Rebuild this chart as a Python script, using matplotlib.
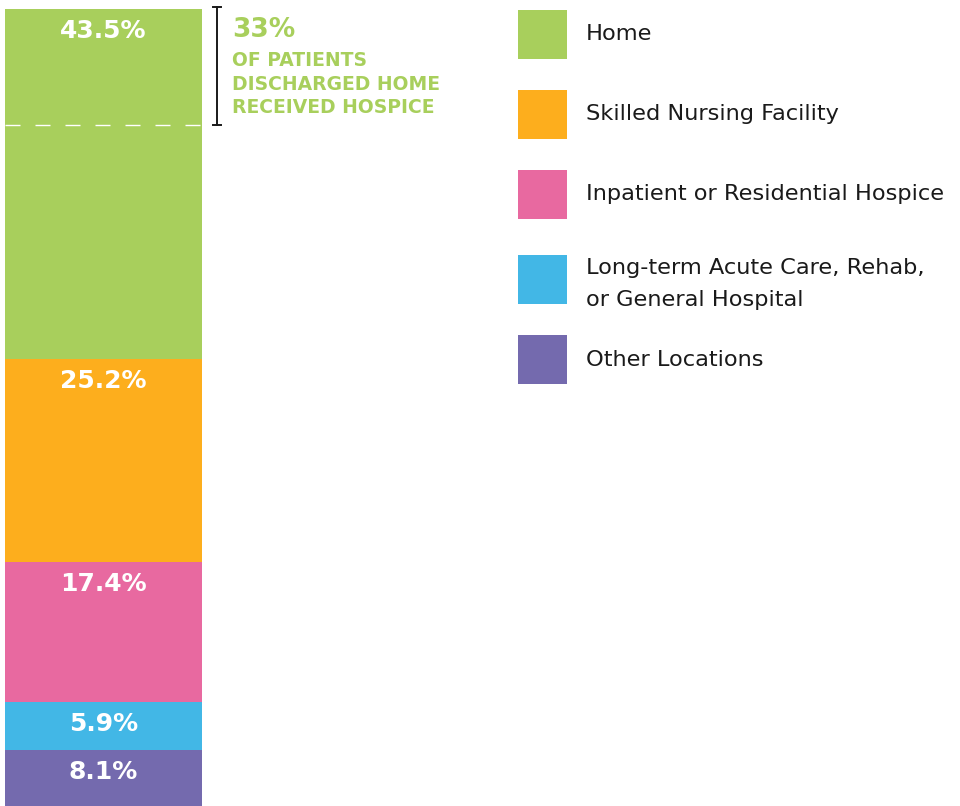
import matplotlib
matplotlib.use("Agg")
import matplotlib.pyplot as plt
from matplotlib.patches import Rectangle

categories = ["Home", "Skilled Nursing Facility", "Inpatient or Residential Hospice",
              "Long-term Acute Care, Rehab,\nor General Hospital", "Other Locations"]
values = [43.5, 25.2, 17.4, 5.9, 8.1]
labels = ["43.5%", "25.2%", "17.4%", "5.9%", "8.1%"]
colors = ["#A8CF5C", "#FDAE1D", "#E869A0", "#42B7E6", "#746AAE"]
hospice_share = 0.33
callout_big = "33%"
callout_text = "OF PATIENTS\nDISCHARGED HOME\nRECEIVED HOSPICE"

W, H = 960, 806
fig = plt.figure(figsize=(W / 100, H / 100), dpi=100)
fig.patch.set_facecolor("white")

total = sum(values)
px_per = 8.05
bottom_px = 815.0
top_px = bottom_px - px_per * total
ax = fig.add_axes([5 / W, (H - bottom_px) / H, 197 / W, (bottom_px - top_px) / H])
ax.set_xlim(0, 1)
ax.set_ylim(0, total)
ax.axis("off")

order = list(range(len(values)))[::-1]
cum = 0.0
tops = {}
for i in order:
    ax.bar(0.5, values[i], width=1.0, bottom=cum, color=colors[i], edgecolor="none")
    cum += values[i]
    tops[i] = cum

label_off = 22 / px_per
for i in range(len(values)):
    ax.text(0.5, tops[i] - label_off, labels[i], ha="center", va="center",
            color="white", fontsize=18, fontweight="bold", family="DejaVu Sans")

dash_y = total - hospice_share * values[0]
ax.plot([0, 1], [dash_y, dash_y], color="white", lw=1.0,
        linestyle=(0, (10.8, 10.8)), solid_capstyle="butt")

ov = fig.add_axes([0, 0, 1, 1])
ov.set_xlim(0, W)
ov.set_ylim(H, 0)
ov.axis("off")

def ypx(v):
    return bottom_px - px_per * v
y_top = 7
y_bot = ypx(dash_y)
ov.plot([217, 217], [y_top, y_bot], color="#1a1a1a", lw=1.4)
ov.plot([213, 221], [y_top, y_top], color="#1a1a1a", lw=1.4)
ov.plot([213, 221], [y_bot, y_bot], color="#1a1a1a", lw=1.4)

green = colors[0]
ov.text(232, 30, callout_big, ha="left", va="center", color=green,
        fontsize=19, fontweight="bold", family="DejaVu Sans")
ov.text(232, 84, callout_text, ha="left", va="center", color=green,
        fontsize=13.5, fontweight="bold", family="DejaVu Sans", linespacing=1.32)

patch_y = [10, 90, 170, 255, 335]
for i, cat in enumerate(categories):
    y0 = patch_y[i]
    ov.add_patch(Rectangle((518, y0), 49, 49, facecolor=colors[i], edgecolor="none"))
    ov.text(586, y0 + 24.5 + (4.5 if "\n" in cat else 0), cat, ha="left", va="center",
            color="#1a1a1a", fontsize=16.2, family="DejaVu Sans", linespacing=1.75)

fig.savefig("out.png", dpi=100, facecolor="white")
